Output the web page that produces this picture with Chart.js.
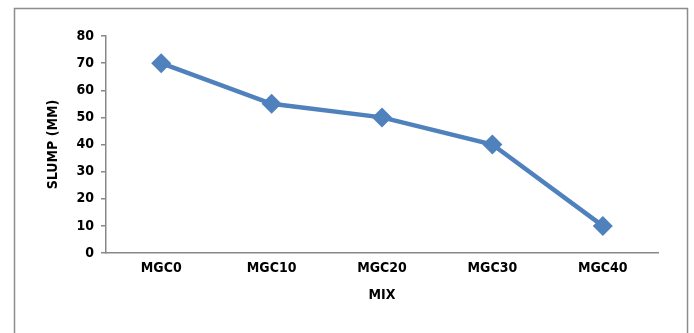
<!DOCTYPE html>
<html>
<head>
<meta charset="utf-8">
<script src="https://cdn.jsdelivr.net/npm/chart.js@4"></script>
<style>
    html, body { margin: 0; padding: 0; background: #fff; }
    #wrap { position: relative; width: 694px; height: 333px; }
</style>
</head>
<body>
<div id="wrap"><canvas id="chart" width="694" height="333"></canvas></div>
<script>
const mixes = ['MGC0', 'MGC10', 'MGC20', 'MGC30', 'MGC40'];
const slump = [70, 55, 50, 40, 10];
const yTicks = [0, 10, 20, 30, 40, 50, 60, 70, 80];

const FONT = "'DejaVu Sans Condensed', 'DejaVu Sans', sans-serif";
const BLUE = '#4F81BD';
const AXIS = '#888888';

// outer frame around the plot (open at the bottom, as in the picture)
const framePlugin = {
    id: 'frame',
    beforeDraw(chart) {
        const ctx = chart.ctx;
        ctx.save();
        ctx.strokeStyle = '#8c8c8c';
        ctx.lineWidth = 1.5;
        ctx.strokeRect(14.5, 8.5, 673, 340);
        ctx.restore();
    }
};

const ctx = document.getElementById('chart').getContext('2d');
new Chart(ctx, {
    type: 'line',
    data: {
        labels: mixes,
        datasets: [{
            label: 'Slump',
            data: slump,
            borderColor: BLUE,
            backgroundColor: BLUE,
            borderWidth: 4.5,
            pointStyle: 'rectRot',
            pointRadius: 10,
            pointBorderWidth: 0,
            pointBackgroundColor: BLUE,
            pointBorderColor: BLUE,
            tension: 0,
            fill: false,
        }]
    },
    options: {
        responsive: false,
        animation: false,
        layout: { padding: { top: 36, right: 36, bottom: 0, left: 0 } },
        plugins: { legend: { display: false }, tooltip: { enabled: false } },
        scales: {
            x: {
                offset: true,
                grid: { display: false, drawTicks: false },
                border: { display: true, color: AXIS, width: 1.5 },
                ticks: {
                    color: '#000',
                    padding: 7,
                    font: { family: FONT, size: 14, weight: 'bold' },
                },
                title: {
                    display: true,
                    text: 'MIX',
                    color: '#000',
                    font: { family: FONT, size: 14, weight: 'bold' },
                    padding: { top: 4, bottom: 29 },
                },
                afterFit(scale) { scale.height = 80; }
            },
            y: {
                min: 0,
                max: 80,
                afterBuildTicks(scale) { scale.ticks = yTicks.map(v => ({ value: v })); },
                grid: { drawOnChartArea: false, drawTicks: true, tickLength: 5, color: AXIS, lineWidth: 1.5 },
                border: { display: true, color: AXIS, width: 1.5 },
                ticks: {
                    color: '#000',
                    padding: 7,
                    font: { family: FONT, size: 14, weight: 'bold' },
                },
                title: {
                    display: true,
                    text: 'SLUMP (MM)',
                    color: '#000',
                    font: { family: FONT, size: 14, weight: 'bold' },
                    padding: { top: 45, bottom: 0 },
                },
                afterFit(scale) { scale.width = 106; }
            }
        }
    },
    plugins: [framePlugin]
});
</script>
</body>
</html>
